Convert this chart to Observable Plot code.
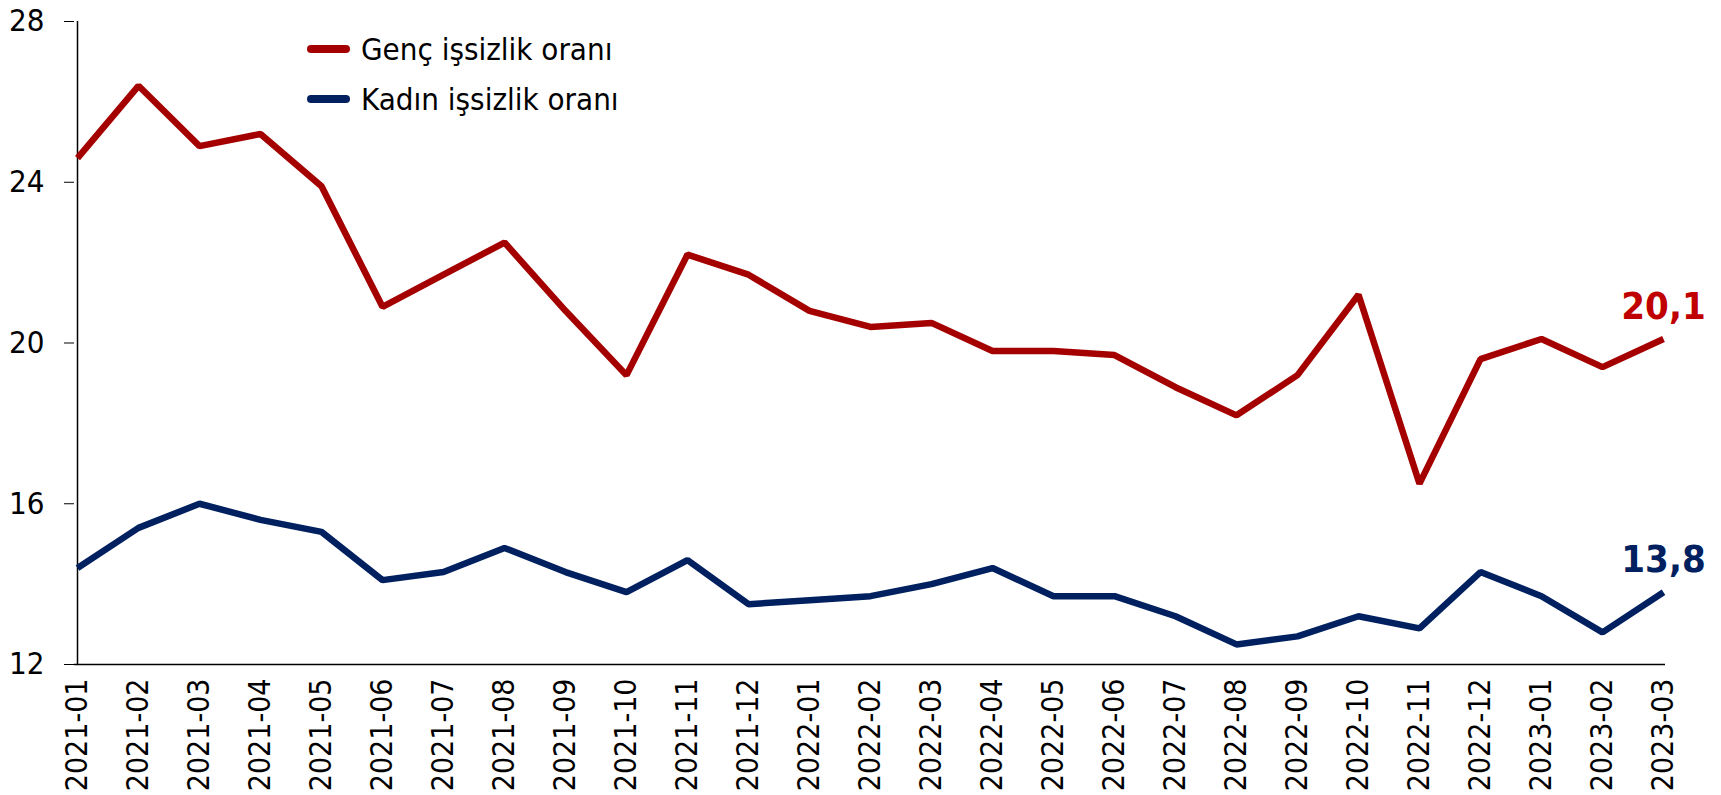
<!DOCTYPE html>
<html>
<head>
<meta charset="utf-8">
<script src="https://cdn.jsdelivr.net/npm/d3@7"></script>
<script src="https://cdn.jsdelivr.net/npm/@observablehq/plot@0.6"></script>
<style>
  html, body { margin: 0; padding: 0; background: #fff; }
  #wrap { position: relative; width: 1721px; height: 795px; }
  .legend { position: absolute; left: 307px; height: 40px; font-family: "DejaVu Sans Condensed", "DejaVu Sans", sans-serif; font-size: 31px; color: #000; display: flex; align-items: center; }
  .legend .sw { display: inline-block; width: 43px; height: 8px; border-radius: 4px; margin-right: 11px; }
</style>
</head>
<body>
<div id="wrap"></div>
<script>
const months = ["2021-01","2021-02","2021-03","2021-04","2021-05","2021-06","2021-07","2021-08","2021-09","2021-10","2021-11","2021-12","2022-01","2022-02","2022-03","2022-04","2022-05","2022-06","2022-07","2022-08","2022-09","2022-10","2022-11","2022-12","2023-01","2023-02","2023-03"];
const genc = [24.6,26.4,24.9,25.2,23.9,20.9,21.7,22.5,20.8,19.2,22.2,21.7,20.8,20.4,20.5,19.8,19.8,19.7,18.9,18.2,19.2,21.2,16.5,19.6,20.1,19.4,20.1];
const kadin = [14.4,15.4,16.0,15.6,15.3,14.1,14.3,14.9,14.3,13.8,14.6,13.5,13.6,13.7,14.0,14.4,13.7,13.7,13.2,12.5,12.7,13.2,12.9,14.3,13.7,12.8,13.8];
const seriesNames = ["Genç işsizlik oranı", "Kadın işsizlik oranı"];
const yTicks = [12, 16, 20, 24, 28];
const colors = ["#a50000", "#002060"];
const labelColors = ["#c00000", "#002060"];

const rows = [];
months.forEach((m, i) => {
  rows.push({month: m, value: genc[i], series: seriesNames[0]});
  rows.push({month: m, value: kadin[i], series: seriesNames[1]});
});
const last = months.length - 1;
const endLabels = [
  {month: months[last], value: genc[last], text: String(genc[last]).replace(".", ",")},
  {month: months[last], value: kadin[last], text: String(kadin[last]).replace(".", ",")}
];

const font = '"DejaVu Sans Condensed", "DejaVu Sans", sans-serif';

const chart = Plot.plot({
  width: 1721,
  height: 795,
  marginLeft: 74,
  marginRight: 56,
  marginTop: 21,
  marginBottom: 131,
  style: {fontFamily: font, fontSize: "28px", color: "#000", background: "#fff"},
  x: {type: "point", domain: months, padding: 0},
  y: {domain: [12, 28]},
  color: {domain: seriesNames, range: colors},
  marks: [
    Plot.axisY({ticks: yTicks, tickSize: 10, tickPadding: 20, label: null, fontSize: 31, stroke: "#000"}),
    Plot.axisX({tickSize: 0, tickPadding: 14, tickRotate: -90, label: null, fontSize: 30}),
    Plot.ruleY([12], {stroke: "#000", strokeWidth: 1.5}),
    Plot.ruleX([months[0]], {y1: 12, y2: 28, stroke: "#000", strokeWidth: 1.5}),
    Plot.line(rows, {x: "month", y: "value", z: "series", stroke: "series", strokeWidth: 6.5, strokeLinejoin: "miter", strokeLinecap: "butt"}),
    Plot.text(endLabels, {x: "month", y: "value", text: "text", dy: -32, fill: (d, i) => labelColors[i], fontWeight: "bold", fontSize: 38, textAnchor: "middle"})
  ]
});
const wrap = document.getElementById("wrap");
wrap.appendChild(chart);

[[seriesNames[0], colors[0], 29], [seriesNames[1], colors[1], 79]].forEach(([name, c, top]) => {
  const d = document.createElement("div");
  d.className = "legend";
  d.style.top = top + "px";
  const sw = document.createElement("span");
  sw.className = "sw";
  sw.style.background = c;
  d.appendChild(sw);
  d.appendChild(document.createTextNode(name));
  wrap.appendChild(d);
});
</script>
</body>
</html>
